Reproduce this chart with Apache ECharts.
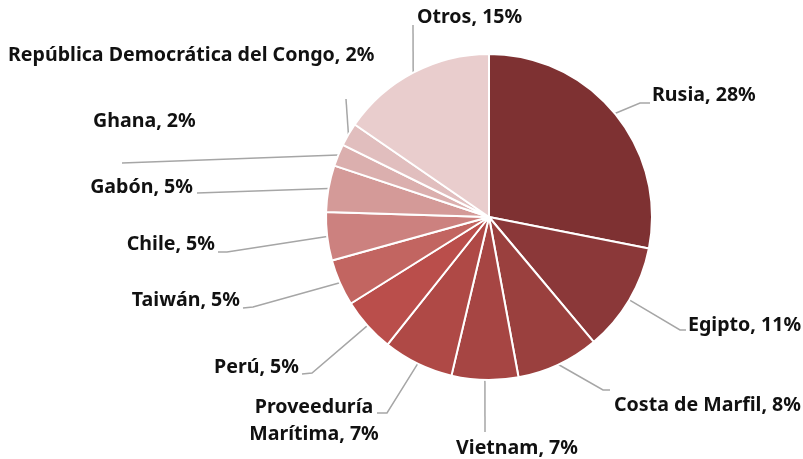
<!DOCTYPE html>
<html><head><meta charset="utf-8">
<script src="https://cdn.jsdelivr.net/npm/echarts@6/dist/echarts.min.js"></script>
<style>html,body{margin:0;padding:0;background:#fff}#c{width:803px;height:459px}</style>
</head><body><div id="c"></div>
<script>
// Data
var categories = ["Rusia","Egipto","Costa de Marfil","Vietnam","Proveeduría\nMarítima","Perú","Taiwán","Chile","Gabón","Ghana","República Democrática del Congo","Otros"];
var shares = [28.1,10.8,8.2,6.6,7.0,5.4,4.6,4.8,4.6,2.2,2.3,15.4];
var colors = ["#7E3132","#8B3839","#9A403E","#A64543","#AF4946","#BA4E4B","#C26561","#CC817F","#D49A98","#DBAFAE","#E1BEBE","#E9CDCD"];

// Label placement (layout only): anchor point, alignment and leader line bend points
var labelPlace = [
  {x:652,y:95,align:'left',pts:[[640,103],[650,103]]},
  {x:688,y:325,align:'left',pts:[[680,330],[686,330]]},
  {x:614,y:405,align:'left',pts:[[603,390],[610,390]]},
  {x:517,y:448,align:'center',pts:[[485,432],[485,432]]},
  {x:314,y:421,align:'center',pts:[[387,413],[377,413]]},
  {x:299,y:367,align:'right',pts:[[312,373],[302,374]]},
  {x:240,y:300,align:'right',pts:[[253,307],[243,308]]},
  {x:215,y:244,align:'right',pts:[[227,252],[218,252]]},
  {x:193,y:187,align:'right',pts:[[197,193],[197,193]]},
  {x:93,y:121,align:'left',pts:[[122,163],[122,163]]},
  {x:8,y:55,align:'left',pts:[[346,99],[346,99]]},
  {x:417,y:17,align:'left',pts:[[413,25],[413,25]]}
];

var chart = echarts.init(document.getElementById('c'), null, {renderer:'canvas'});
var data = categories.map(function(n,i){return {name:n, value:shares[i], itemStyle:{color:colors[i]}};});
chart.setOption({
  animation:false,
  series:[{
    type:'pie',
    center:[489,217],
    radius:[0,163],
    startAngle:90,
    clockwise:true,
    avoidLabelOverlap:false,
    itemStyle:{borderColor:'#fff',borderWidth:2},
    label:{
      show:true,
      position:'outside',
      fontFamily:'Noto Sans',
      fontWeight:'bold',
      fontSize:19.6,
      lineHeight:27,
      color:'#111',
      formatter:function(p){return p.name+', '+Math.round(p.percent)+'%';}
    },
    labelLine:{show:true,length:10,length2:10,lineStyle:{color:'#A6A6A6',width:1.5}},
    labelLayout:function(p){
      var lp = labelPlace[p.dataIndex];
      var start = p.labelLinePoints ? p.labelLinePoints[0] : [0,0];
      return {x:lp.x, y:lp.y, align:lp.align, verticalAlign:'middle',
        labelLinePoints:[start, lp.pts[0], lp.pts[1]]};
    },
    data:data
  }]
});
</script></body></html>
